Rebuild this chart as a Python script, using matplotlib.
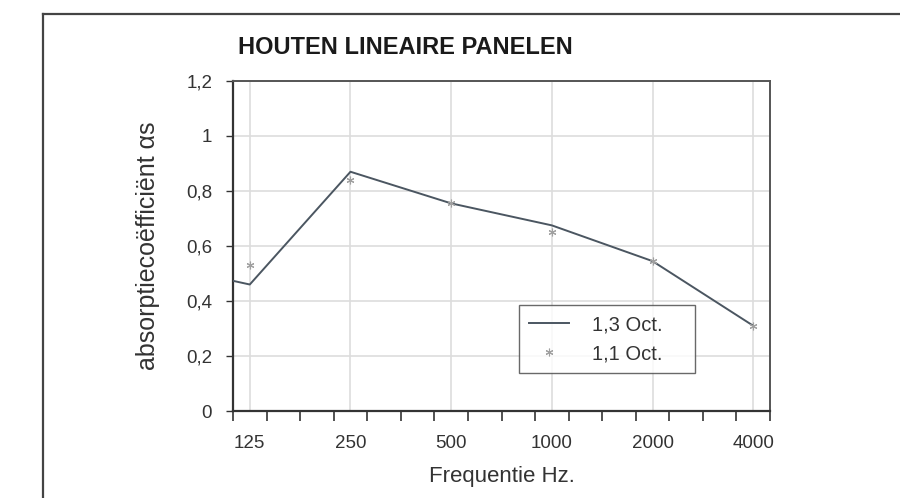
import matplotlib.pyplot as plt
from matplotlib.lines import Line2D
import numpy as np

# third-octave index: 0 = 125 Hz, 3 = 250 Hz, ... 15 = 4000 Hz
freq_labels = ["125", "250", "500", "1000", "2000", "4000"]
freq_pos = [0, 3, 6, 9, 12, 15]

# 1/3 octave curve (100 Hz point sits off the left edge)
third_pos = [-3, 0, 3, 6, 9, 12, 15]
third_vals = [0.54, 0.46, 0.87, 0.755, 0.675, 0.545, 0.31]

# 1/1 octave values
oct_pos = [0, 3, 6, 9, 12, 15]
oct_vals = [0.53, 0.84, 0.755, 0.65, 0.545, 0.31]

yticks = [0, 0.2, 0.4, 0.6, 0.8, 1.0, 1.2]
ytick_labels = ["0", "0,2", "0,4", "0,6", "0,8", "1", "1,2"]

plt.rcParams['font.family'] = ['Liberation Sans', 'DejaVu Sans']

fig = plt.figure(figsize=(9, 4.98), dpi=100)
ax = fig.add_axes([233 / 900, 1 - 411 / 498, 537 / 900, 330 / 498])

line_col = '#4b5661'
star_col = '#a0a0a0'
text_col = '#333333'

ax.plot(third_pos, third_vals, color=line_col, lw=1.4, label='1,3 Oct.', zorder=3)
ax.plot(oct_pos, oct_vals, ls='none', marker=(6, 2, 0), ms=5.5, mew=0.8,
        color=star_col, label='1,1 Oct.', zorder=4)

ax.set_xlim(-0.5, 15.5)
ax.set_ylim(0, 1.2)

# tick marks at third-octave boundaries, labels at octave centres
ax.set_xticks(np.arange(-0.5, 15.6, 1.0))
ax.set_xticklabels([])
ax.set_xticks(freq_pos, minor=True)
ax.set_xticklabels(freq_labels, minor=True)
ax.tick_params(axis='x', which='major', length=7, width=1.2, color='#333333', direction='out')
ax.tick_params(axis='x', which='minor', length=0, pad=17, labelsize=13.5, labelcolor=text_col)

ax.set_yticks(yticks)
ax.set_yticklabels(ytick_labels)
ax.tick_params(axis='y', length=5, width=1.0, color='#333333', pad=10,
               labelsize=13.5, labelcolor=text_col)

ax.grid(True, which='minor', axis='x', color='#dddddd', lw=1.2)
ax.grid(True, which='major', axis='y', color='#dddddd', lw=1.2)
ax.set_axisbelow(True)

for side in ['left', 'bottom']:
    ax.spines[side].set_color('#333333')
    ax.spines[side].set_linewidth(1.6)
for side in ['top', 'right']:
    ax.spines[side].set_color('#555555')
    ax.spines[side].set_linewidth(1.4)

ax.set_xlabel("Frequentie Hz.", fontsize=16, color=text_col, labelpad=10)
ax.set_ylabel("absorptiecoëfficiënt αs", fontsize=18, color=text_col, labelpad=19)

fig.text(238 / 900, 1 - 47 / 498, "HOUTEN LINEAIRE PANELEN", fontsize=17,
         fontweight='bold', color='#1a1a1a', va='center', ha='left')

lx0 = (519 - 233) / 537
lw_ = (695 - 519) / 537
ly0 = (411 - 374) / 330
lh = (374 - 305) / 330
leg = ax.legend(loc='upper left', bbox_to_anchor=(lx0, ly0, lw_, lh), mode='expand',
                frameon=True, fancybox=False, fontsize=14.5, handlelength=2.0,
                handletextpad=1.1, borderpad=0.5, labelspacing=0.5, borderaxespad=0)
leg.get_frame().set_edgecolor('#444444')
leg.get_frame().set_linewidth(1.0)
for t in leg.get_texts():
    t.set_color(text_col)

# outer page frame (left and top edges)
fig.add_artist(Line2D([42.5 / 900, 42.5 / 900], [0, 1 - 14.5 / 498], color='#444444', lw=1.6))
fig.add_artist(Line2D([42.5 / 900, 1], [1 - 14.5 / 498, 1 - 14.5 / 498], color='#444444', lw=1.6))

fig.savefig("out.png", dpi=100)
